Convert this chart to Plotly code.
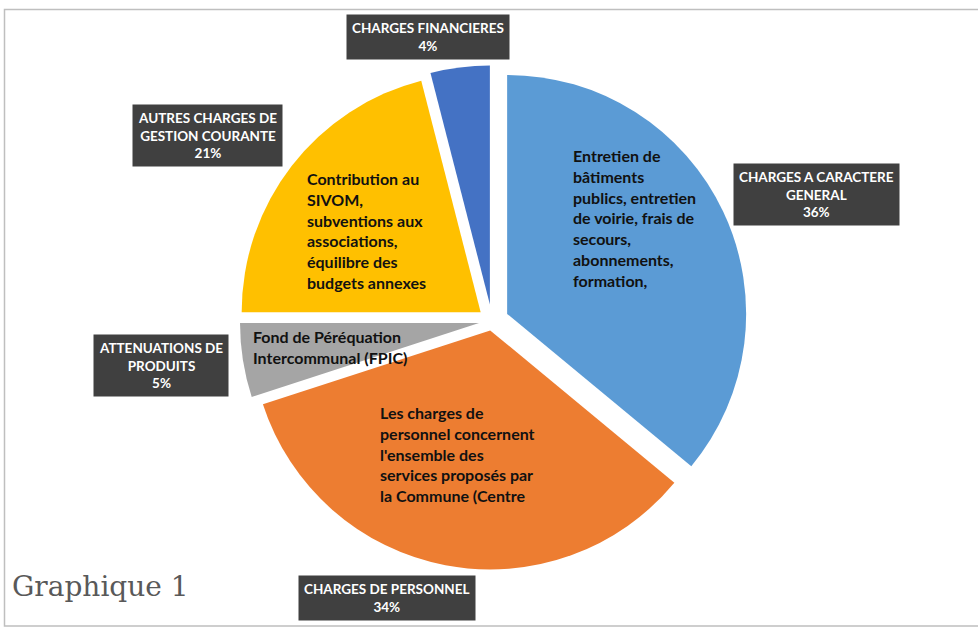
import plotly.graph_objects as go

# ---- data ----
categories = ["CHARGES A CARACTERE GENERAL", "CHARGES DE PERSONNEL",
              "ATTENUATIONS DE PRODUITS", "AUTRES CHARGES DE GESTION COURANTE",
              "CHARGES FINANCIERES"]
values = [36, 34, 5, 21, 4]
box_labels = ["CHARGES A CARACTERE<br>GENERAL", "CHARGES DE PERSONNEL",
              "ATTENUATIONS DE<br>PRODUITS", "AUTRES CHARGES DE<br>GESTION COURANTE",
              "CHARGES FINANCIERES"]
descriptions = [
    "Entretien de<br>bâtiments<br>publics, entretien<br>de voirie, frais de<br>secours,<br>abonnements,<br>formation,",
    "Les charges de<br>personnel concernent<br>l'ensemble des<br>services proposés par<br>la Commune (Centre",
    "Fond de Péréquation<br>Intercommunal (FPIC)",
    "Contribution au<br>SIVOM,<br>subventions aux<br>associations,<br>équilibre des<br>budgets annexes",
    "",
]
title_text = "Graphique 1"

# ---- style ----
colors = ["#5B9BD5", "#ED7D31", "#A5A5A5", "#FFC000", "#4472C4"]
pulls = [0.07, 0.04, 0.055, 0.06, 0.07]
W, H = 978, 630
cx, cy, R = 492, 321, 239
outer = R * (1 + max(pulls))

fig = go.Figure(go.Pie(
    labels=categories, values=values, sort=False, direction="clockwise",
    rotation=0, pull=pulls, textinfo="none", hoverinfo="label+percent",
    marker=dict(colors=colors, line=dict(width=0)), showlegend=False,
    domain=dict(x=[(cx - outer) / W, (cx + outer) / W],
                y=[(H - cy - outer) / H, (H - cy + outer) / H]),
))

# label boxes (pixel centres of the boxes)
box_pos = [(816, 194), (387, 598), (161, 365), (207, 135), (428, 37)]
annotations = []
for lab, v, (px, py) in zip(box_labels, values, box_pos):
    annotations.append(dict(
        x=px / W, y=1 - py / H, xref="paper", yref="paper",
        text=f"<b>{lab}<br>{v}%</b>", showarrow=False,
        font=dict(family="Lato, Open Sans, sans-serif", size=13.5, color="white"),
        bgcolor="#404040", borderpad=5, align="center",
        xanchor="center", yanchor="middle"))

# descriptive texts inside slices (pixel top-left anchors)
desc_pos = [(571, 144), (378, 401), (251, 325), (305, 167), (0, 0)]
for d, (px, py) in zip(descriptions, desc_pos):
    if not d:
        continue
    annotations.append(dict(
        x=px / W, y=1 - py / H, xref="paper", yref="paper",
        text=f"<b>{d}</b>", showarrow=False, align="left",
        font=dict(family="Lato, Open Sans, sans-serif", size=16, color="#111111"),
        xanchor="left", yanchor="top"))

annotations.append(dict(
    x=10 / W, y=1 - 586 / H, xref="paper", yref="paper", text=title_text,
    showarrow=False, xanchor="left", yanchor="middle",
    font=dict(family="DejaVu Serif, Liberation Serif, serif", size=28, color="#595959")))

fig.update_layout(
    width=W, height=H, margin=dict(l=0, r=0, t=0, b=0),
    paper_bgcolor="white", plot_bgcolor="white",
    annotations=annotations,
    shapes=[dict(type="rect", xref="paper", yref="paper",
                 x0=4.5 / W, x1=990 / W, y0=1 - 626 / H, y1=1 - 9.5 / H,
                 line=dict(color="#BFBFBF", width=1.5), fillcolor="rgba(0,0,0,0)",
                 layer="below")],
)

fig.write_html("out.html", config={"displayModeBar": False},
               post_script="document.body.style.margin='0px';document.body.style.overflow='hidden';")
